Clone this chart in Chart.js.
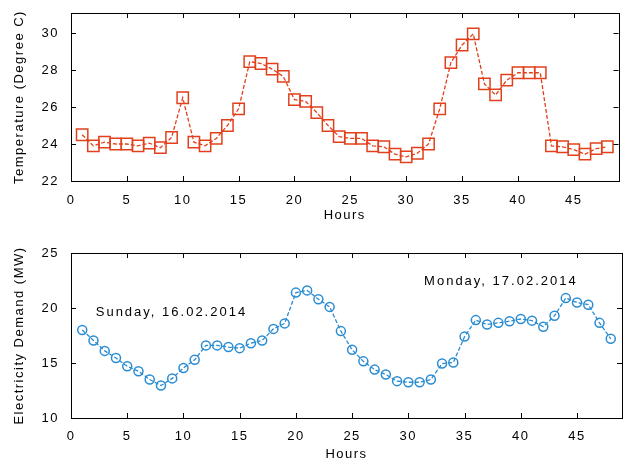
<!DOCTYPE html>
<html><head><meta charset="utf-8">
<script src="https://cdn.jsdelivr.net/npm/chart.js@4/dist/chart.umd.min.js"></script>
<style>
html,body{margin:0;padding:0;background:#fff;}
#wrap{position:relative;width:628px;height:468px;}
canvas{position:absolute;left:0;}
</style></head>
<body><div id="wrap">
<canvas id="c1" width="628" height="234" style="top:0"></canvas>
<canvas id="c2" width="628" height="234" style="top:234px"></canvas>
</div>
<script>
const hours = Array.from({length:48},(_,i)=>i+1);
const temperature = [24.5,23.9,24.1,24.0,24.0,23.9,24.05,23.8,24.35,26.5,24.1,23.9,24.3,25.0,25.9,28.45,28.35,28.05,27.65,26.4,26.3,25.7,25.0,24.4,24.3,24.3,23.9,23.85,23.45,23.3,23.5,24.0,25.9,28.4,29.35,29.95,27.25,26.65,27.45,27.85,27.85,27.85,23.9,23.85,23.7,23.45,23.75,23.85];
const demand = [18.0,17.05,16.1,15.45,14.7,14.25,13.5,12.95,13.6,14.55,15.3,16.6,16.6,16.45,16.35,16.8,17.05,18.1,18.6,21.4,21.6,20.8,20.1,17.9,16.2,15.15,14.4,13.95,13.35,13.25,13.25,13.5,14.95,15.05,17.4,18.9,18.5,18.65,18.8,19.0,18.85,18.3,19.3,20.9,20.5,20.3,18.65,17.2];
const xTicks = [0,5,10,15,20,25,30,35,40,45];
const tempTicks = [22,24,26,28,30];
const demandTicks = [10,15,20,25];
const labels = [
  {text:'Sunday, 16.02.2014', x:2.2, y:19.6},
  {text:'Monday, 17.02.2014', x:31.4, y:22.4}
];
const FONT = 'Liberation Sans, Arial, sans-serif';

const boxPlugin = {
  id:'box',
  beforeDraw(chart){ chart.ctx.letterSpacing='1.5px'; },
  afterDraw(chart, args, opts){
    const {ctx, chartArea:a, scales} = chart;
    ctx.save();
    ctx.strokeStyle='#000'; ctx.lineWidth=1;
    ctx.strokeRect(Math.round(a.left)+0.5, Math.round(a.top)+0.5, Math.round(a.right-a.left), Math.round(a.bottom-a.top));
    const tl=5;
    ctx.beginPath();
    opts.xt.forEach(v=>{
      const px=Math.round(scales.x.getPixelForValue(v))+0.5;
      ctx.moveTo(px,a.bottom); ctx.lineTo(px,a.bottom-tl);
      ctx.moveTo(px,a.top); ctx.lineTo(px,a.top+tl);
    });
    opts.yt.forEach(v=>{
      const py=Math.round(scales.y.getPixelForValue(v))+0.5;
      ctx.moveTo(a.left,py); ctx.lineTo(a.left+tl,py);
      ctx.moveTo(a.right,py); ctx.lineTo(a.right-tl,py);
    });
    ctx.stroke();
    if(opts.labels){
      ctx.letterSpacing='2px';
      ctx.fillStyle='#000'; ctx.font='13px '+FONT; ctx.textBaseline='middle'; ctx.textAlign='left';
      opts.labels.forEach(l=>{
        ctx.fillText(l.text, scales.x.getPixelForValue(l.x), scales.y.getPixelForValue(l.y));
      });
    }
    ctx.restore();
  }
};

function makeChart(id, data, color, style, yMin, yMax, yT, yTitle, extraLabels, markerR, lay){
  return new Chart(document.getElementById(id), {
    type:'line',
    data:{ labels:hours, datasets:[{
      data: hours.map((h,i)=>({x:h,y:data[i]})),
      borderColor:color, borderWidth:1.3, borderDash:[4,2],
      pointStyle:style, pointRadius:markerR, pointBorderColor:color, pointBackgroundColor:'rgba(0,0,0,0)',
      pointBorderWidth:1.5, tension:0, fill:false
    }]},
    options:{
      responsive:false, animation:false, devicePixelRatio:1,
      layout:{padding:{left:12,right:3,top:lay.top,bottom:lay.bottom}},
      plugins:{legend:{display:false}, tooltip:{enabled:false},
        box:{xt:xTicks, yt:yT, labels:extraLabels}},
      scales:{
        x:{type:'linear', min:0, max:49,
          afterBuildTicks(s){ s.ticks = xTicks.map(v=>({value:v})); },
          afterFit(s){ s.height=lay.xh; s.paddingLeft=0; s.paddingRight=0; },
          grid:{display:false, drawTicks:false}, border:{display:false},
          ticks:{color:'#000', font:{family:FONT,size:13}, padding:lay.tp, maxRotation:0, autoSkip:false},
          title:{display:true, text:'Hours', color:'#000', font:{family:FONT,size:13}, padding:{top:2,bottom:0}}
        },
        y:{min:yMin, max:yMax,
          afterBuildTicks(s){ s.ticks = yT.map(v=>({value:v})); },
          afterFit(s){ s.width=59; s.paddingTop=0; s.paddingBottom=0; },
          grid:{display:false, drawTicks:false}, border:{display:false},
          ticks:{color:'#000', font:{family:FONT,size:13}, padding:12},
          title:{display:true, text:yTitle, color:'#000', font:{family:FONT,size:13}, padding:{top:0,bottom:4}}
        }
      }
    },
    plugins:[boxPlugin]
  });
}
makeChart('c1', temperature, '#e2401c', 'rect', 22, 31.08, tempTicks, 'Temperature (Degree C)', null, 8, {top:13,bottom:11,xh:42,tp:12});
makeChart('c2', demand, '#2a8cd2', 'circle', 10, 25, demandTicks, 'Electricity Demand (MW)', labels, 4.5, {top:19,bottom:6,xh:44,tp:11});
</script></body></html>
